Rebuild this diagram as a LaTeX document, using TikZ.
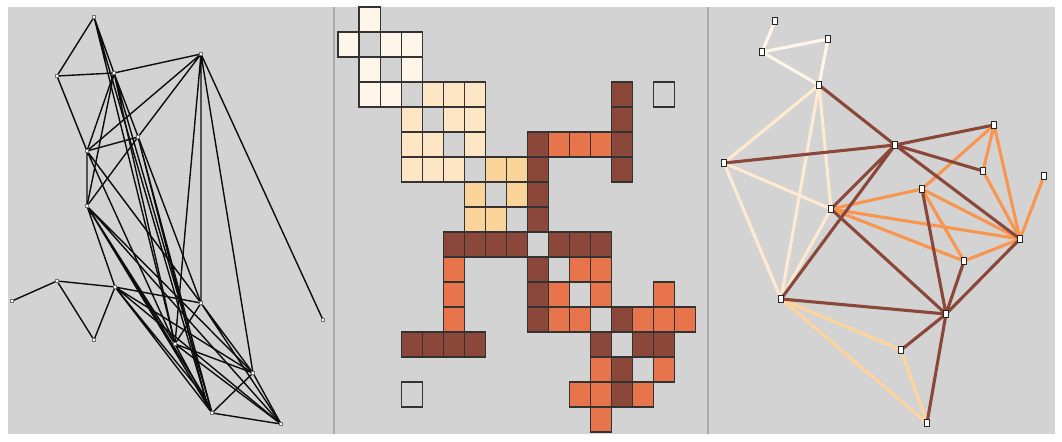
\documentclass[tikz,border=0pt]{standalone}
\definecolor{panelgray}{HTML}{D3D3D3}
\definecolor{divgray}{HTML}{ABABAB}
\definecolor{cream}{HTML}{FFF6E9}
\definecolor{peach}{HTML}{FEE6C5}
\definecolor{sand}{HTML}{F9D397}
\definecolor{coral}{HTML}{E8744C}
\definecolor{rust}{HTML}{8B473A}
\definecolor{tang}{HTML}{F8954E}
\definecolor{lsand}{HTML}{FDD49B}
\definecolor{lpeach}{HTML}{FEEAD0}
\begin{document}
\begin{tikzpicture}[x=0.025cm,y=-0.025cm,
	cell/.style={draw=black!80,line width=0.8pt},
	ledge/.style={black!95,line width=1pt},
	redge/.style={line width=2.2pt},
	lvert/.style={draw=black!55,fill=white,inner sep=0pt,minimum size=0.07cm,line width=0.3pt},
	rvert/.style={draw=black!85,fill=white,inner sep=0pt,minimum width=0.13cm,minimum height=0.16cm,line width=0.7pt}]
		\useasboundingbox (0,0) rectangle (1062,441);
		\fill[panelgray] (8,7) rectangle (1055,434);
		\draw[divgray,line width=1.4pt] (334,7) to (334,434);
		\draw[divgray,line width=1.4pt] (708,7) to (708,434);
		% left panel
		\coordinate (L1) at (94,17);
		\coordinate (L2) at (201,54);
		\coordinate (L3) at (57,76);
		\coordinate (L4) at (114,73);
		\coordinate (L5) at (138,137);
		\coordinate (L6) at (87,151);
		\coordinate (L7) at (87,206);
		\coordinate (L8) at (12,301);
		\coordinate (L9) at (57,281);
		\coordinate (L10) at (94,340);
		\coordinate (L11) at (115,287);
		\coordinate (L12) at (201,303);
		\coordinate (L13) at (323,320);
		\coordinate (L14) at (175,344);
		\coordinate (L15) at (253,373);
		\coordinate (L16) at (212,413);
		\coordinate (L17) at (281,424);
		\coordinate (L18) at (205,397);
		\draw[ledge] (L1) to (L3) (L1) to (L4) (L3) to (L4) (L4) to (L2) (L3) to (L6) (L1) to (L14) (L1) to (L18);
		\draw[ledge] (L2) to (L6) (L2) to (L5) (L5) to (L7) (L2) to (L12) (L2) to (L14) (L2) to (L15) (L2) to (L13);
		\draw[ledge] (L4) to (L6) (L4) to (L7) (L4) to (L12) (L4) to (L16) (L4) to (L14);
		\draw[ledge] (L5) to (L6) (L5) to (L16) (L5) to (L18) (L6) to (L7) (L6) to (L14) (L6) to (L12);
		\draw[ledge] (L7) to (L11) (L7) to (L16) (L7) to (L15) (L7) to (L17) (L7) to (L14) (L7) to (L18);
		\draw[ledge] (L8) to (L9) (L9) to (L11) (L9) to (L10) (L10) to (L11);
		\draw[ledge] (L11) to (L12) (L11) to (L15) (L11) to (L16) (L11) to (L17) (L11) to (L18);
		\draw[ledge] (L12) to (L14) (L12) to (L15) (L12) to (L17) (L14) to (L15) (L14) to (L16) (L14) to (L17);
		\draw[ledge] (L15) to (L16) (L15) to (L17) (L16) to (L17) (L18) to (L16);
		\foreach \v in {L1,L2,L3,L4,L5,L6,L7,L8,L9,L10,L11,L12,L13,L14,L15,L16,L17}
			\node[lvert] at (\v) {};
		% middle panel
		\foreach \c/\r in {1/0,0/1,2/1,3/1,1/2,3/2,1/3,2/3}
			\filldraw[cell,fill=cream] ({338+21.05*\c},{7+25*\r}) rectangle ++(21.05,25);
		\foreach \c/\r in {4/3,5/3,6/3,3/4,5/4,6/4,3/5,4/5,6/5,3/6,4/6,5/6}
			\filldraw[cell,fill=peach] ({338+21.05*\c},{7+25*\r}) rectangle ++(21.05,25);
		\foreach \c/\r in {7/6,8/6,6/7,8/7,6/8,7/8}
			\filldraw[cell,fill=sand] ({338+21.05*\c},{7+25*\r}) rectangle ++(21.05,25);
		\foreach \c/\r in {10/5,11/5,12/5,5/10,11/10,12/10,5/11,10/11,12/11,15/11,5/12,10/12,11/12,14/12,15/12,16/12,12/14,15/14,11/15,12/15,14/15,12/16}
			\filldraw[cell,fill=coral] ({338+21.05*\c},{7+25*\r}) rectangle ++(21.05,25);
		\foreach \c/\r in {13/3,13/4,9/5,13/5,9/6,13/6,9/7,9/8,5/9,6/9,7/9,8/9,10/9,11/9,12/9,9/10,9/11,9/12,13/12,3/13,4/13,5/13,6/13,12/13,14/13,15/13,13/14,13/15}
			\filldraw[cell,fill=rust] ({338+21.05*\c},{7+25*\r}) rectangle ++(21.05,25);
		\foreach \c/\r in {15/3,3/15}
			\draw[cell] ({338+21.05*\c},{7+25*\r}) rectangle ++(21.05,25);
		% right panel
		\coordinate (R1) at (775,21);
		\coordinate (R2) at (762,52);
		\coordinate (R3) at (828,39);
		\coordinate (R4) at (819,85);
		\coordinate (R5) at (724,163);
		\coordinate (R6) at (895,145);
		\coordinate (R7) at (994,125);
		\coordinate (R8) at (983,171);
		\coordinate (R9) at (1044,176);
		\coordinate (R10) at (922,189);
		\coordinate (R11) at (831,209);
		\coordinate (R12) at (1020,239);
		\coordinate (R13) at (964,261);
		\coordinate (R14) at (781,299);
		\coordinate (R15) at (946,314);
		\coordinate (R16) at (901,350);
		\coordinate (R17) at (927,423);
		\draw[redge,cream] (R1) to (R2) (R2) to (R3) (R2) to (R4) (R3) to (R4);
		\draw[redge,lpeach] (R4) to (R5) (R4) to (R14) (R4) to (R11) (R5) to (R14) (R5) to (R11) (R11) to (R14);
		\draw[redge,lsand] (R14) to (R16) (R14) to (R17) (R16) to (R17);
		\draw[redge,tang] (R7) to (R8) (R7) to (R10) (R7) to (R12) (R8) to (R12) (R9) to (R12) (R10) to (R11);
		\draw[redge,tang] (R10) to (R12) (R10) to (R13) (R11) to (R12) (R11) to (R13) (R12) to (R13);
		\draw[redge,rust] (R4) to (R6) (R5) to (R6) (R6) to (R7) (R6) to (R8) (R6) to (R11) (R6) to (R12) (R6) to (R14);
		\draw[redge,rust] (R10) to (R15) (R11) to (R15) (R12) to (R15) (R13) to (R15) (R14) to (R15) (R15) to (R16) (R15) to (R17);
		\foreach \v in {R1,R2,R3,R4,R5,R6,R7,R8,R9,R10,R11,R12,R13,R14,R15,R16,R17}
			\node[rvert] at (\v) {};
	\end{tikzpicture}
\end{document}
